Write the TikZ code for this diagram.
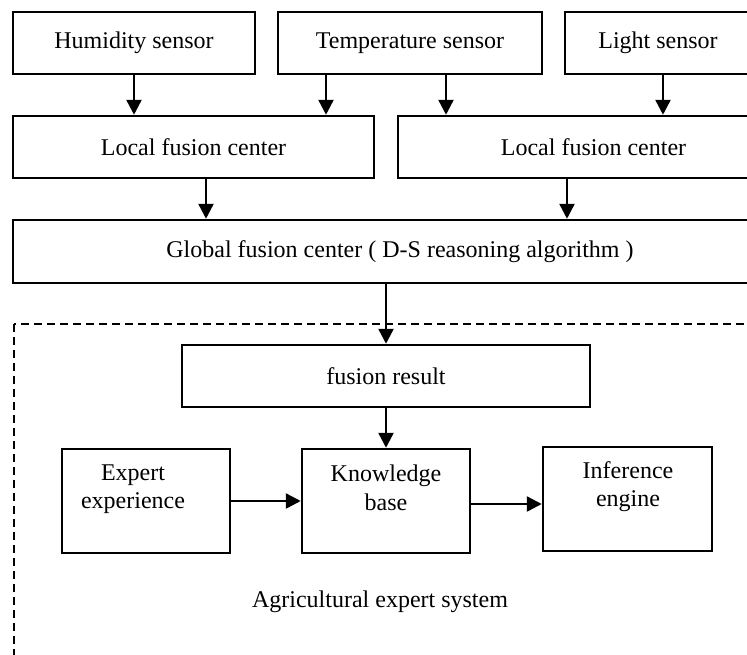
\documentclass[tikz,border=0pt]{standalone}
\usepackage{fontspec}
\setmainfont{Liberation Serif}
\usetikzlibrary{arrows.meta}
\begin{document}
\begin{tikzpicture}[x=1pt,y=-1pt,
  every node/.style={font=\fontsize{24}{28.5}\selectfont},
  box/.style={draw, line width=2.5pt, inner sep=0pt, minimum height=62pt},
  txt/.style={align=center, inner sep=0pt},
  arr/.style={line width=2.5pt, -{Triangle[length=15pt,width=15pt]}},
  dashbox/.style={line width=2.3pt, dash pattern=on 8pt off 5pt}]
\useasboundingbox (0,0) rectangle (747,654);
\clip (0,0) rectangle (747,654);
\node[box, minimum width=242pt] (hum) at (134,43) {Humidity sensor};
\node[box, minimum width=264pt] (temp) at (410,43) {Temperature sensor};
\node[box, minimum width=186pt] (light) at (658,43) {Light sensor};
\node[box, minimum width=361pt] (lf1) at (193.5,147) {Local fusion center};
\node[box, minimum width=391pt] (lf2) at (593.5,147) {Local fusion center};
\node[box, minimum width=774pt, minimum height=63pt] (glob) at (400,251.5) {Global fusion center ( D-S reasoning algorithm )};
\draw[dashbox] (14,324) rectangle (780,690);
\node[box, minimum width=408pt] (fr) at (386,376) {fusion result};
\node[box, minimum width=168pt, minimum height=104pt] (exp) at (146,501) {};
\node[box, minimum width=168pt, minimum height=104pt] (kb) at (386,501) {};
\node[box, minimum width=169pt, minimum height=104pt] (inf) at (627.5,499) {};
\node[txt] (exptxt) at (133,489) {Expert\\experience};
\node[txt] (kbtxt) at (386,488) {Knowledge\\base};
\node[txt] (inftxt) at (628,486.5) {Inference\\engine};
\node[txt] (agri) at (380,602) {Agricultural expert system};
\draw[arr] (hum.south) -- (hum.south |- lf1.north);
\draw[arr] ([xshift=-84pt]temp.south) -- ([xshift=-84pt]temp.south |- lf1.north);
\draw[arr] ([xshift=36pt]temp.south) -- ([xshift=36pt]temp.south |- lf2.north);
\draw[arr] ([xshift=5pt]light.south) -- ([xshift=5pt]light.south |- lf2.north);
\draw[arr] ([xshift=12.5pt]lf1.south) -- ([xshift=12.5pt]lf1.south |- glob.north);
\draw[arr] ([xshift=-26.5pt]lf2.south) -- ([xshift=-26.5pt]lf2.south |- glob.north);
\draw[arr] (fr.north |- glob.south) -- (fr.north);
\draw[arr] (fr.south) -- (kb.north);
\draw[arr] (exp.east) -- (kb.west);
\draw[arr] ([yshift=-3pt]kb.east) -- ([yshift=-3pt]kb.east -| inf.west);
\end{tikzpicture}
\end{document}
